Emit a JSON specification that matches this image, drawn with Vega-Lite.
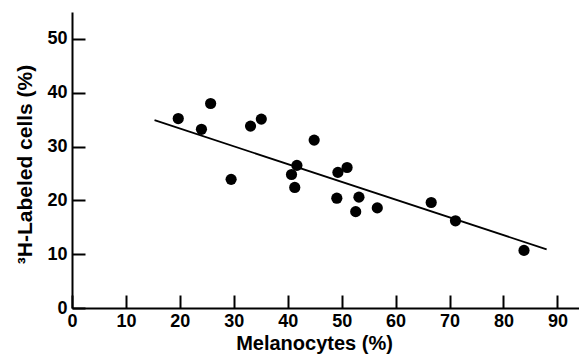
{
  "$schema": "https://vega.github.io/schema/vega-lite/v6.json",
  "autosize": {"type": "none"},
  "padding": {"left": 72, "top": 12, "right": 0, "bottom": 46},
  "width": 507,
  "height": 296,
  "background": "white",
  "config": {
    "view": {"stroke": null},
    "font": "Liberation Sans",
    "axis": {
      "grid": false,
      "domainColor": "black",
      "domainWidth": 2,
      "tickColor": "black",
      "tickWidth": 2,
      "tickSize": -13,
      "labelFont": "Liberation Sans",
      "labelFontWeight": "bold",
      "labelFontSize": 18,
      "labelColor": "black",
      "titleFont": "Liberation Sans",
      "titleFontWeight": "bold",
      "titleFontSize": 20,
      "titleColor": "black"
    }
  },
  "datasets": {
    "points": [
      {"mel": 19.7, "lab": 35.2},
      {"mel": 25.7, "lab": 38.0},
      {"mel": 24.0, "lab": 33.2},
      {"mel": 33.1, "lab": 33.8},
      {"mel": 35.1, "lab": 35.1},
      {"mel": 29.5, "lab": 23.9},
      {"mel": 44.9, "lab": 31.2},
      {"mel": 41.7, "lab": 26.5},
      {"mel": 40.7, "lab": 24.8},
      {"mel": 41.3, "lab": 22.4},
      {"mel": 49.3, "lab": 25.2},
      {"mel": 51.0, "lab": 26.1},
      {"mel": 49.1, "lab": 20.4},
      {"mel": 53.2, "lab": 20.6},
      {"mel": 52.6, "lab": 17.9},
      {"mel": 56.6, "lab": 18.6},
      {"mel": 66.6, "lab": 19.6},
      {"mel": 71.1, "lab": 16.2},
      {"mel": 83.8, "lab": 10.7}
    ],
    "fit": [
      {"mel": 15.3, "lab": 34.9},
      {"mel": 88.0, "lab": 10.9}
    ]
  },
  "layer": [
    {
      "data": {"name": "fit"},
      "mark": {"type": "line", "color": "black", "strokeWidth": 1.8},
      "encoding": {
        "x": {"field": "mel", "type": "quantitative",
          "scale": {"domain": [0, 94], "nice": false, "zero": false},
          "axis": {"values": [0, 10, 20, 30, 40, 50, 60, 70, 80, 90], "title": "Melanocytes (%)", "labelPadding": 17, "titlePadding": 3, "titleX": 242, "labelFlush": false}},
        "y": {"field": "lab", "type": "quantitative",
          "scale": {"domain": [0, 55], "nice": false, "zero": false},
          "axis": {"values": [0, 10, 20, 30, 40, 50], "title": "³H-Labeled cells (%)", "titleFontSize": 21, "labelPadding": 18, "titlePadding": 11, "titleY": 152, "labelFlush": false}}
      }
    },
    {
      "data": {"name": "points"},
      "mark": {"type": "circle", "color": "black", "opacity": 1, "size": 125},
      "encoding": {
        "x": {"field": "mel", "type": "quantitative"},
        "y": {"field": "lab", "type": "quantitative"}
      }
    }
  ]
}
